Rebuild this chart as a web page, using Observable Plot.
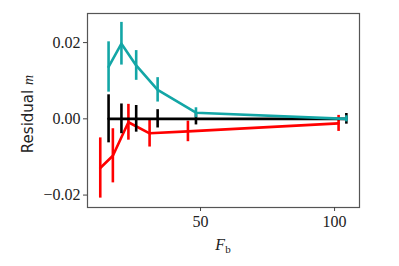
<!DOCTYPE html>
<html>
<head>
<meta charset="utf-8">
<script src="https://cdn.jsdelivr.net/npm/d3@7"></script>
<script src="https://cdn.jsdelivr.net/npm/@observablehq/plot@0.6"></script>
<style>
html,body{margin:0;padding:0;background:#fff;}
</style>
</head>
<body>
<div id="chart"></div>
<script>
const xTicks = [50, 100];
const yTicks = [-0.02, 0, 0.02];

const tealX = [15.7, 20.5, 26.0, 34.0, 48.3, 104.4];
const tealY = [0.0136, 0.0197, 0.0140, 0.0076, 0.0016, 0.0];
const tealErr = [0.0066, 0.0056, 0.0039, 0.0032, 0.0013, 0.0008];

const blackX = [15.7, 20.5, 26.0, 34.0, 48.3, 104.4];
const blackY = [0, 0, 0, 0, 0, 0];
const blackErr = [0.0063, 0.0039, 0.0035, 0.0024, 0.0016, 0.0014];

const redX = [12.6, 17.3, 23.1, 31.0, 45.3, 101.5];
const redY = [-0.0129, -0.0097, -0.0009, -0.0038, -0.0033, -0.0012];
const redErr = [0.0079, 0.0071, 0.0047, 0.0036, 0.0027, 0.0021];

const mk = (xs, ys, es) => xs.map((x, i) => ({x, y: ys[i], lo: ys[i] - es[i], hi: ys[i] + es[i]}));
const teal = mk(tealX, tealY, tealErr);
const black = mk(blackX, blackY, blackErr);
const red = mk(redX, redY, redErr);

const TEAL = "#13a6a6", RED = "#ff0000", BLK = "#000000";
const sw = 2.6;
const SERIF = "'Liberation Serif', 'DejaVu Serif', serif";

const series = (data, color) => [
  Plot.line(data, {x: "x", y: "y", stroke: color, strokeWidth: sw}),
  Plot.ruleX(data, {x: "x", y1: "lo", y2: "hi", stroke: color, strokeWidth: sw})
];

const chart = Plot.plot({
  width: 399,
  height: 266,
  marginLeft: 87,
  marginTop: 13,
  marginRight: 40,
  marginBottom: 59,
  style: {background: "#fff"},
  x: {domain: [7.84, 109.3]},
  y: {domain: [-0.02326, 0.02763]},
  marks: [
    ...series(red, RED),
    ...series(black, BLK),
    ...series(teal, TEAL),
    Plot.frame({stroke: "#555", strokeWidth: 1.2}),
    Plot.axisX({ticks: xTicks, tickSize: 4, tickPadding: 4, label: null, stroke: "#444", strokeWidth: 1,
      fontSize: 16, fill: "#222"}),
    Plot.axisY({ticks: yTicks, tickFormat: d3.format(".2f"), tickSize: 4, tickPadding: 3, label: null, stroke: "#444", strokeWidth: 1,
      fontSize: 16, fill: "#222"})
  ]
});

const svg = d3.select(chart);
svg.selectAll("text").style("font-family", SERIF).style("font-size", "16px").style("font-variant", "normal");

const xl = svg.append("text")
  .attr("x", 223).attr("y", 250)
  .attr("text-anchor", "middle")
  .style("font-family", SERIF)
  .style("font-size", "16px")
  .attr("fill", "#222");
xl.append("tspan").attr("font-style", "italic").text("F");
xl.append("tspan").style("font-size", "11px").attr("dy", 3).text("b");

const yl = svg.append("text")
  .attr("transform", "translate(32.5,114) rotate(-90)")
  .attr("text-anchor", "middle")
  .style("font-family", "'DejaVu Sans', sans-serif")
  .style("font-size", "15px")
  .attr("fill", "#222");
yl.append("tspan").text("Residual ");
yl.append("tspan").style("font-family", SERIF).attr("font-style", "italic").style("font-size", "14px").text("m");

document.getElementById("chart").appendChild(chart);
</script>
</body>
</html>
